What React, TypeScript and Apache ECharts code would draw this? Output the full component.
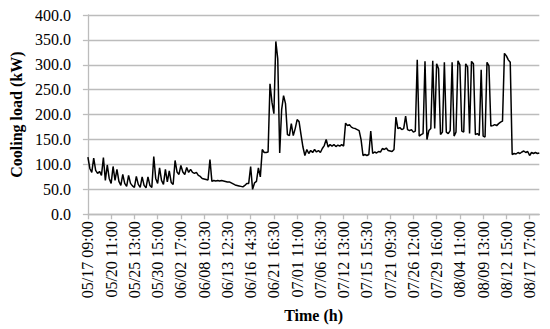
import React, { useEffect, useRef } from "react";
import * as echarts from "echarts";

// Tick labels shown every POINTS_PER_LABEL records on the time axis
const tickLabels = [
  "05/17 09:00", "05/20 11:00", "05/25 13:00", "05/30 15:00", "06/02 17:00",
  "06/08 10:30", "06/13 12:30", "06/16 14:30", "06/21 16:30", "07/01 11:00",
  "07/06 16:30", "07/12 13:00", "07/15 15:30", "07/21 09:30", "07/26 12:00",
  "07/29 16:00", "08/04 11:00", "08/09 13:00", "08/12 15:00", "08/17 17:00",
];
const POINTS_PER_LABEL = 12;

// Cooling load (kW), one value per record
const loadMay = [
  115, 92, 84, 113, 88, 82, 86, 78, 114, 68, 99, 72,
  62, 96, 68, 90, 66, 58, 80, 62, 56, 78, 62, 57,
  54, 76, 60, 54, 75, 58, 53, 75, 58, 54, 116, 72,
  62, 93, 68, 60, 90, 65, 87, 64, 60, 108, 85, 80,
];
const loadJune = [
  98, 85, 80, 94, 84, 90, 84, 82, 84, 78, 76, 72,
  71, 70, 69, 110, 66, 68, 67, 68, 67, 68, 67, 66,
  65, 65, 63, 61, 59, 58, 57, 56, 55, 58, 62, 62,
  96, 50, 63, 66, 93, 75, 130, 124, 124, 125, 262, 225,
  202, 347, 312, 123, 210, 238, 222, 160, 158, 182, 158, 172,
];
const loadJuly = [
  190, 186, 160, 135, 118, 130, 122, 128, 124, 130, 125, 128,
  124, 132, 138, 150, 135, 140, 137, 140, 136, 139, 137, 140,
  137, 183, 178, 180, 175, 173, 172, 170, 168, 150, 118, 120,
  118, 120, 167, 122, 125, 123, 126, 125, 132, 130, 133, 128,
  127, 126, 130, 195, 172, 174, 170, 172, 197, 170, 168, 170,
  165, 167, 310, 157, 160, 162, 307, 150, 168, 172, 308, 172,
];
const loadAugust = [
  302, 292, 160, 165, 305, 165, 162, 168, 305, 157, 165, 308,
  300, 167, 165, 302, 296, 162, 307, 302, 160, 162, 158, 290,
  157, 155, 305, 298, 177, 178, 180, 178, 182, 185, 187, 323,
  318, 310, 305, 120, 122, 121, 124, 122, 125, 127, 124, 126,
  118, 124, 122, 124, 122, 123,
];
const coolingLoad = [...loadMay, ...loadJune, ...loadJuly, ...loadAugust];

const Y_MIN = 0;
const Y_MAX = 400;
const Y_STEP = 50;

const FONT = "'Liberation Serif', 'Times New Roman', serif";

export default function App() {
  const ref = useRef<HTMLDivElement>(null);

  useEffect(() => {
    if (!ref.current) return;
    const chart = echarts.init(ref.current, null, { renderer: "svg" });
    const categories = coolingLoad.map((_, i) => String(i));
    const gridColor = "#bcbcbc";

    chart.setOption({
      animation: false,
      backgroundColor: "#ffffff",
      grid: { left: 77.7, right: 10.7, top: 15, bottom: 114.7, containLabel: false },
      xAxis: {
        type: "category",
        data: categories,
        boundaryGap: false,
        axisLine: { show: true, lineStyle: { color: gridColor, width: 1.3 } },
        axisTick: {
          show: true,
          interval: POINTS_PER_LABEL - 1,
          length: 5,
          lineStyle: { color: gridColor, width: 1.3 },
        },
        axisLabel: {
          interval: POINTS_PER_LABEL - 1,
          rotate: 90,
          margin: 7,
          color: "#000",
          fontSize: 16,
          fontFamily: FONT,
          formatter: (_v: string, idx: number) =>
            idx % POINTS_PER_LABEL === 0 ? tickLabels[idx / POINTS_PER_LABEL] ?? "" : "",
        },
        splitLine: { show: false },
        name: "Time (h)",
        nameLocation: "middle",
        nameGap: 93,
        nameTextStyle: { color: "#000", fontSize: 16, fontWeight: "bold", fontFamily: FONT },
      },
      yAxis: {
        type: "value",
        min: Y_MIN,
        max: Y_MAX,
        interval: Y_STEP,
        axisLine: { show: true, lineStyle: { color: gridColor, width: 1.3 } },
        axisTick: { show: true, length: 5, lineStyle: { color: gridColor, width: 1.3 } },
        axisLabel: {
          margin: 17,
          color: "#000",
          fontSize: 16,
          fontFamily: FONT,
          formatter: (v: number) => v.toFixed(1),
        },
        splitLine: { show: true, lineStyle: { color: gridColor, width: 1.3 } },
        name: "Cooling load (kW)",
        nameLocation: "middle",
        nameRotate: 90,
        nameGap: 60,
        nameTextStyle: { color: "#000", fontSize: 16, fontWeight: "bold", fontFamily: FONT },
      },
      series: [
        {
          type: "line",
          data: coolingLoad,
          showSymbol: false,
          symbol: "none",
          lineStyle: { color: "#000", width: 1.5 },
          emphasis: { disabled: true },
        },
      ],
    });

    return () => chart.dispose();
  }, []);

  return (
    <div
      ref={ref}
      style={{ position: "absolute", left: 0, top: 0, width: 550, height: 329, background: "#fff" }}
    />
  );
}
